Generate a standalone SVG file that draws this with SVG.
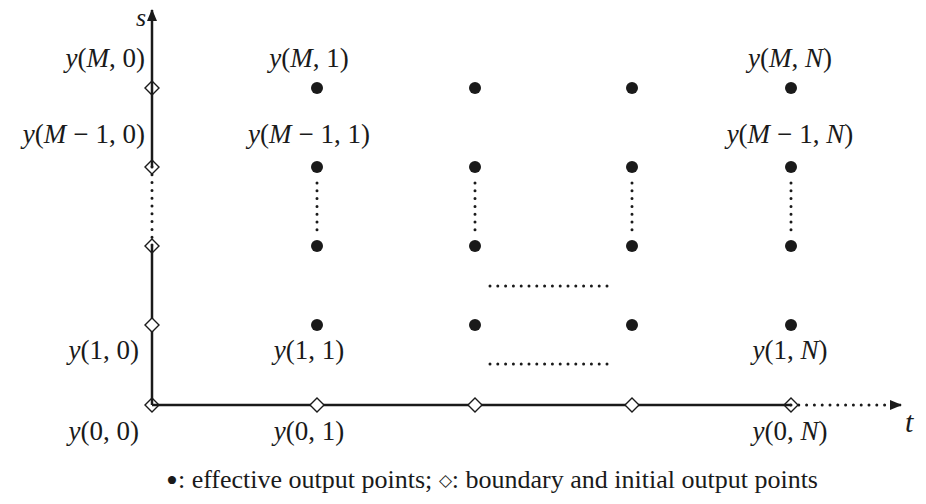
<svg xmlns="http://www.w3.org/2000/svg" width="926" height="504" viewBox="0 0 926 504">
<style>
.ax{stroke:#1a1a1a;stroke-width:2.5;fill:none}
.dt{stroke:#1a1a1a;stroke-width:3;fill:none;stroke-linecap:round;stroke-dasharray:0 7.8}
.dm{fill:#fff;stroke:#1a1a1a;stroke-width:1.4}
.pt{fill:#1a1a1a}
text{font-family:"Liberation Serif","Times New Roman",serif;font-size:26px;fill:#1a1a1a}
.m{font-size:27px}
.i{font-style:italic}
</style>
<defs>
<marker id="ah" markerWidth="12" markerHeight="10" refX="11" refY="5" orient="auto" markerUnits="userSpaceOnUse">
<path d="M0,0 L12,5 L0,10 Z" fill="#1a1a1a"/>
</marker>
<path id="dia" d="M0,-7 L7,0 L0,7 L-7,0 Z"/>
</defs>
<g id="connectors">
<line class="ax" x1="152" y1="405" x2="152" y2="246"/>
<line class="ax" x1="152" y1="167" x2="152" y2="10" marker-end="url(#ah)"/>
<line class="ax" x1="152" y1="405" x2="791" y2="405"/>
<line class="dt" x1="152" y1="167" x2="152" y2="246"/>
<line class="dt" x1="791" y1="405" x2="893" y2="405"/>
<line class="ax" x1="890" y1="405" x2="901" y2="405" marker-end="url(#ah)" stroke-width="0"/>
<line class="dt" x1="317" y1="183" x2="317" y2="230"/>
<line class="dt" x1="475" y1="183" x2="475" y2="230"/>
<line class="dt" x1="632" y1="183" x2="632" y2="230"/>
<line class="dt" x1="791" y1="183" x2="791" y2="230"/>
<line class="dt" x1="490" y1="286" x2="610" y2="286"/>
<line class="dt" x1="490" y1="364" x2="610" y2="364"/>
</g>
<g id="boundary">
<use href="#dia" class="dm" x="152" y="88" style="fill:none"/>
<use href="#dia" class="dm" x="152" y="167" style="fill:none"/>
<use href="#dia" class="dm" x="152" y="246" style="fill:none"/>
<use href="#dia" class="dm" x="152" y="325"/>
<use href="#dia" class="dm" x="152" y="405" style="fill:none"/>
<use href="#dia" class="dm" x="317" y="405"/>
<use href="#dia" class="dm" x="475" y="405"/>
<use href="#dia" class="dm" x="632" y="405"/>
<use href="#dia" class="dm" x="791" y="405" style="fill:none"/>
</g>
<g id="effective">
<circle class="pt" cx="317" cy="88" r="6"/><circle class="pt" cx="475" cy="88" r="6"/><circle class="pt" cx="632" cy="88" r="6"/><circle class="pt" cx="791" cy="88" r="6"/>
<circle class="pt" cx="317" cy="167" r="6"/><circle class="pt" cx="475" cy="167" r="6"/><circle class="pt" cx="632" cy="167" r="6"/><circle class="pt" cx="791" cy="167" r="6"/>
<circle class="pt" cx="317" cy="246" r="6"/><circle class="pt" cx="475" cy="246" r="6"/><circle class="pt" cx="632" cy="246" r="6"/><circle class="pt" cx="791" cy="246" r="6"/>
<circle class="pt" cx="317" cy="325" r="6"/><circle class="pt" cx="475" cy="325" r="6"/><circle class="pt" cx="632" cy="325" r="6"/><circle class="pt" cx="791" cy="325" r="6"/>
</g>
<g id="labels">
<text x="136" y="26" class="i">s</text>
<text x="905" y="432" class="i" style="font-size:30px">t</text>
<text class="m" x="145" y="67" text-anchor="end"><tspan class="i">y</tspan>(<tspan class="i">M</tspan>, 0)</text>
<text class="m" x="145" y="143" text-anchor="end"><tspan class="i">y</tspan>(<tspan class="i">M</tspan><tspan dx="7">−</tspan><tspan dx="7">1, 0)</tspan></text>
<text class="m" x="139" y="359" text-anchor="end"><tspan class="i">y</tspan>(1, 0)</text>
<text class="m" x="139" y="440" text-anchor="end"><tspan class="i">y</tspan>(0, 0)</text>
<text class="m" x="309" y="67" text-anchor="middle"><tspan class="i">y</tspan>(<tspan class="i">M</tspan>, 1)</text>
<text class="m" x="309" y="143" text-anchor="middle"><tspan class="i">y</tspan>(<tspan class="i">M</tspan><tspan dx="7">−</tspan><tspan dx="7">1, 1)</tspan></text>
<text class="m" x="309" y="359" text-anchor="middle"><tspan class="i">y</tspan>(1, 1)</text>
<text class="m" x="309" y="440" text-anchor="middle"><tspan class="i">y</tspan>(0, 1)</text>
<text class="m" x="790" y="67" text-anchor="middle"><tspan class="i">y</tspan>(<tspan class="i">M</tspan>, <tspan class="i">N</tspan>)</text>
<text class="m" x="790" y="143" text-anchor="middle"><tspan class="i">y</tspan>(<tspan class="i">M</tspan><tspan dx="7">−</tspan><tspan dx="7">1, </tspan><tspan class="i">N</tspan>)</text>
<text class="m" x="790" y="359" text-anchor="middle"><tspan class="i">y</tspan>(1, <tspan class="i">N</tspan>)</text>
<text class="m" x="790" y="440" text-anchor="middle"><tspan class="i">y</tspan>(0, <tspan class="i">N</tspan>)</text>
<text x="492" y="488" text-anchor="middle"><tspan style="font-size:34px" dy="4">•</tspan><tspan dy="-4">: effective output points; </tspan><tspan style="font-size:17px" dy="-2">◇</tspan><tspan dy="2">: boundary and initial output points</tspan></text>
</g>
</svg>
